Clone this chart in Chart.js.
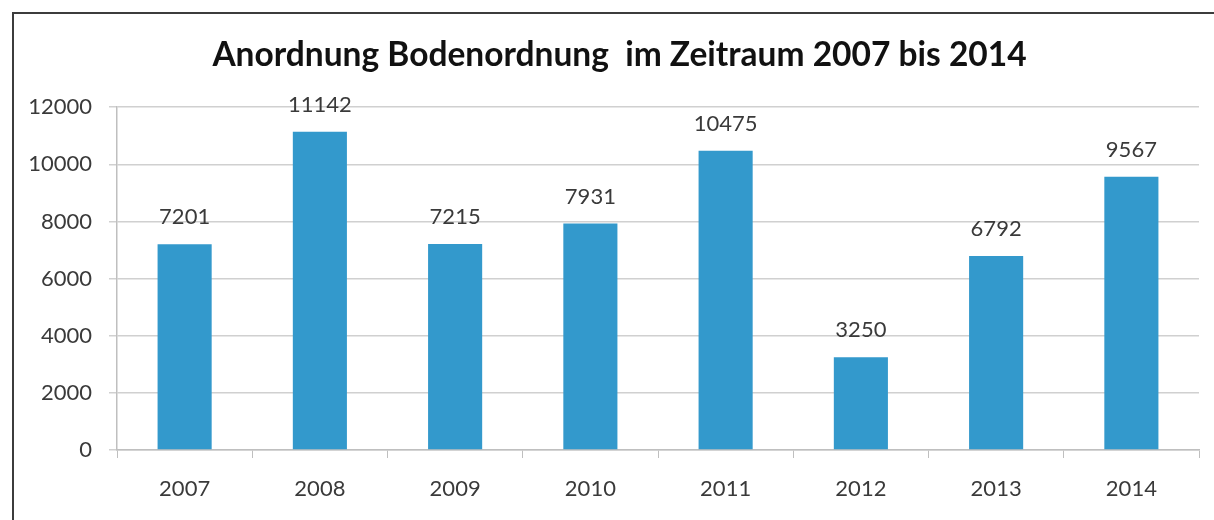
<!DOCTYPE html>
<html lang="de">
<head>
    <meta charset="UTF-8">
    <title>Anordnung Bodenordnung</title>
    <script src="https://cdn.jsdelivr.net/npm/chart.js"></script>
    <style>
        html, body { margin: 0; padding: 0; background: #fff; overflow: hidden; }
        .frame {
            position: absolute; left: 12px; top: 12px;
            width: 1300px; height: 600px;
            border-top: 2px solid #3c3c3c;
            border-left: 2px solid #3c3c3c;
            pointer-events: none;
        }
        .chart-box { position: absolute; left: 0; top: 0; width: 1214px; height: 520px; }
    </style>
</head>
<body>
    <div class="chart-box"><canvas id="bodenChart" width="1214" height="520"></canvas></div>
    <div class="frame"></div>

    <script>
        // Jahre und Anzahl der Anordnungen
        const years = ['2007', '2008', '2009', '2010', '2011', '2012', '2013', '2014'];
        const counts = [7201, 11142, 7215, 7931, 10475, 3250, 6792, 9567];
        const yTicks = [0, 2000, 4000, 6000, 8000, 10000, 12000];

        const barColor = 'rgb(51, 153, 204)';
        const textColor = '#3a3a3a';
        const fontFamily = 'Lato, "Open Sans", sans-serif';

        // Werte über den Balken
        const valueLabels = {
            id: 'valueLabels',
            afterDatasetsDraw(chart) {
                const ctx = chart.ctx;
                const meta = chart.getDatasetMeta(0);
                ctx.save();
                ctx.font = '22px ' + fontFamily;
                ctx.fillStyle = textColor;
                ctx.textAlign = 'center';
                ctx.textBaseline = 'middle';
                meta.data.forEach((bar, i) => {
                    ctx.fillText(String(counts[i]), bar.x, bar.y - 27);
                });
                ctx.restore();
            }
        };

        const ctx = document.getElementById('bodenChart').getContext('2d');
        new Chart(ctx, {
            type: 'bar',
            data: {
                labels: years,
                datasets: [{
                    data: counts,
                    backgroundColor: barColor,
                    categoryPercentage: 1,
                    barPercentage: 0.4
                }]
            },
            options: {
                responsive: false,
                animation: false,
                // linker Rand so, dass der Titel mittig über dem Rahmen steht
                layout: { padding: { top: 0, right: 15, bottom: 0, left: 40 } },
                plugins: {
                    legend: { display: false },
                    tooltip: { enabled: false },
                    title: {
                        display: true,
                        text: 'Anordnung Bodenordnung  im Zeitraum 2007 bis 2014',
                        color: '#111',
                        font: { family: fontFamily, size: 33.5, weight: 'bold' },
                        padding: { top: 35, bottom: 32 }
                    }
                },
                scales: {
                    x: {
                        grid: {
                            drawOnChartArea: false,
                            drawTicks: true,
                            tickLength: 8,
                            color: '#bfbfbf'
                        },
                        border: { color: '#bfbfbf', width: 1.5 },
                        ticks: {
                            color: textColor,
                            padding: 18,
                            maxRotation: 0,
                            font: { family: fontFamily, size: 22 }
                        },
                        afterFit(scale) { scale.height = 70; }
                    },
                    y: {
                        min: 0,
                        max: 12000,
                        afterBuildTicks(scale) {
                            scale.ticks = yTicks.map(v => ({ value: v }));
                        },
                        grid: {
                            color: '#d0d0d0',
                            lineWidth: 1.5,
                            tickLength: 8
                        },
                        border: { color: '#bfbfbf', width: 1.5 },
                        ticks: {
                            color: textColor,
                            padding: 17,
                            font: { family: fontFamily, size: 22 },
                            callback: (value) => String(value)
                        },
                        afterFit(scale) {
                            scale.width = 77;
                            // Beschriftung darf links in den Rand hineinragen
                            scale._computeLabelArea = () => undefined;
                        }
                    }
                }
            },
            plugins: [valueLabels]
        });
    </script>
</body>
</html>
